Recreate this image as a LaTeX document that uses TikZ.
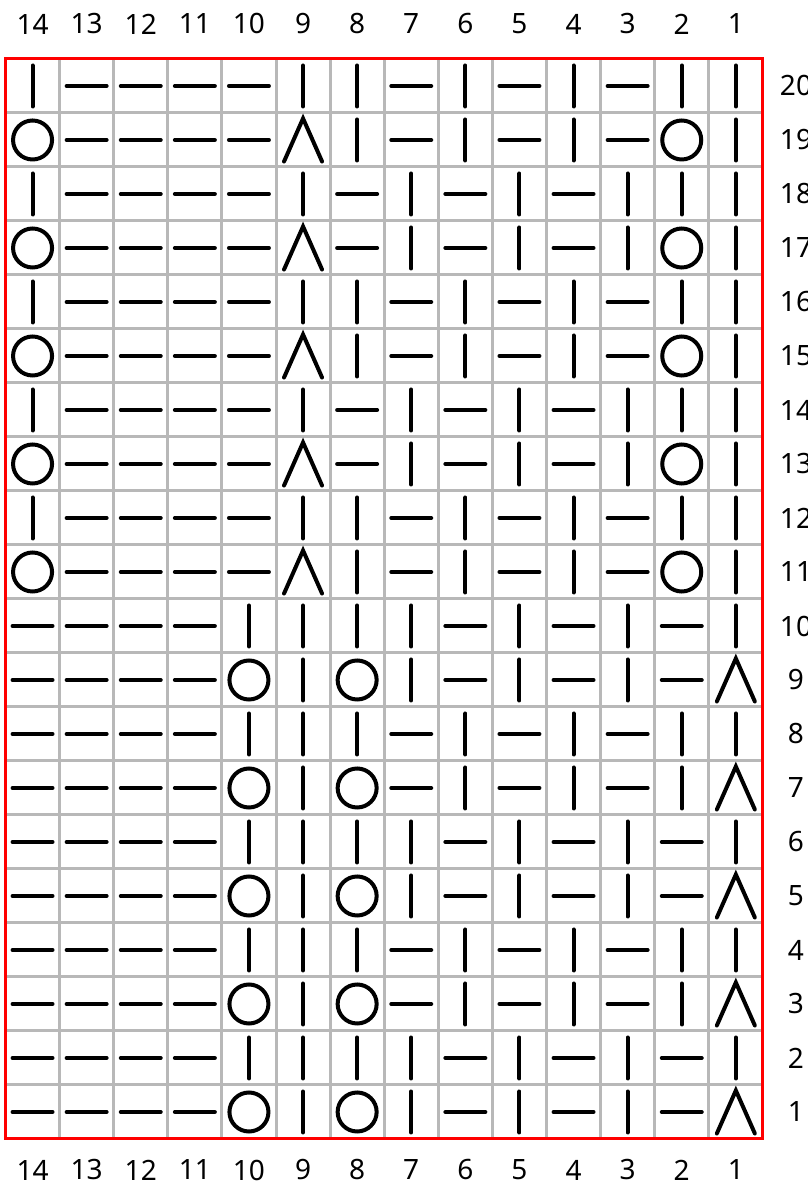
\documentclass[tikz,border=0pt]{standalone}
\usepackage{fontspec}
\setmainfont{Noto Sans}
\usepackage{tikz}

\tikzset{
  stitch/.style={line width=4pt, line cap=round},
  gridline/.style={line width=3pt, color=black!28},
  rim/.style={line width=3pt, red},
  numlabel/.style={font=\fontsize{28}{32}\selectfont, inner sep=0pt}
}
% k = knit bar, p = purl dash, o = yarn over, a = decrease
\newcommand{\stk}[2]{\draw[stitch] (#1,#2-20.5)--(#1,#2+20.5);}
\newcommand{\stp}[2]{\draw[stitch] (#1-20,#2)--(#1+20,#2);}
\newcommand{\sto}[2]{\draw[stitch] (#1,#2) circle [radius=19.5];}
\newcommand{\sta}[2]{\draw[stitch] (#1-19,#2-21.5)--(#1,#2+21.5)--(#1+19,#2-21.5);}

\begin{document}
\begin{tikzpicture}[x=1pt,y=1pt]
\useasboundingbox (0,0) rectangle (808,1184);

%grid
\foreach \j in {1,...,13} {\pgfmathsetmacro\gx{5.5+\j*54.1} \draw[gridline] (\gx,45)--(\gx,1125);}
\foreach \j in {1,...,19} {\pgfmathsetmacro\gy{45+\j*54} \draw[gridline] (5.5,\gy)--(762.9,\gy);}
\draw[rim] (5.5,45) rectangle (762.9,1125);

%numbers
\foreach \i in {0,...,13} {
  \pgfmathsetmacro\cx{5.5+(\i+0.5)*54.1} \pgfmathtruncatemacro\n{14-\i}
  \node[numlabel] (top\n) at (\cx,1160) {\n};
  \node[numlabel] (bot\n) at (\cx,14) {\n};
}
\foreach \r in {1,...,20} {\pgfmathsetmacro\cy{45+(\r-0.5)*54} \node[numlabel] (row\r) at (796,\cy) {\r};}

%stitches, left (14) to right (1)
\foreach \r/\row in {
  20/{k,p,p,p,p,k,k,p,k,p,k,p,k,k},
  19/{o,p,p,p,p,a,k,p,k,p,k,p,o,k},
  18/{k,p,p,p,p,k,p,k,p,k,p,k,k,k},
  17/{o,p,p,p,p,a,p,k,p,k,p,k,o,k},
  16/{k,p,p,p,p,k,k,p,k,p,k,p,k,k},
  15/{o,p,p,p,p,a,k,p,k,p,k,p,o,k},
  14/{k,p,p,p,p,k,p,k,p,k,p,k,k,k},
  13/{o,p,p,p,p,a,p,k,p,k,p,k,o,k},
  12/{k,p,p,p,p,k,k,p,k,p,k,p,k,k},
  11/{o,p,p,p,p,a,k,p,k,p,k,p,o,k},
  10/{p,p,p,p,k,k,k,k,p,k,p,k,p,k},
  9/{p,p,p,p,o,k,o,k,p,k,p,k,p,a},
  8/{p,p,p,p,k,k,k,p,k,p,k,p,k,k},
  7/{p,p,p,p,o,k,o,p,k,p,k,p,k,a},
  6/{p,p,p,p,k,k,k,k,p,k,p,k,p,k},
  5/{p,p,p,p,o,k,o,k,p,k,p,k,p,a},
  4/{p,p,p,p,k,k,k,p,k,p,k,p,k,k},
  3/{p,p,p,p,o,k,o,p,k,p,k,p,k,a},
  2/{p,p,p,p,k,k,k,k,p,k,p,k,p,k},
  1/{p,p,p,p,o,k,o,k,p,k,p,k,p,a}} {
  \foreach \s [count=\i from 0] in \row {
    \pgfmathsetmacro\cx{5.5+(\i+0.5)*54.1} \pgfmathsetmacro\cy{45+(\r-0.5)*54}
    \csname st\s\endcsname{\cx}{\cy}
  }
}

\end{tikzpicture}
\end{document}
